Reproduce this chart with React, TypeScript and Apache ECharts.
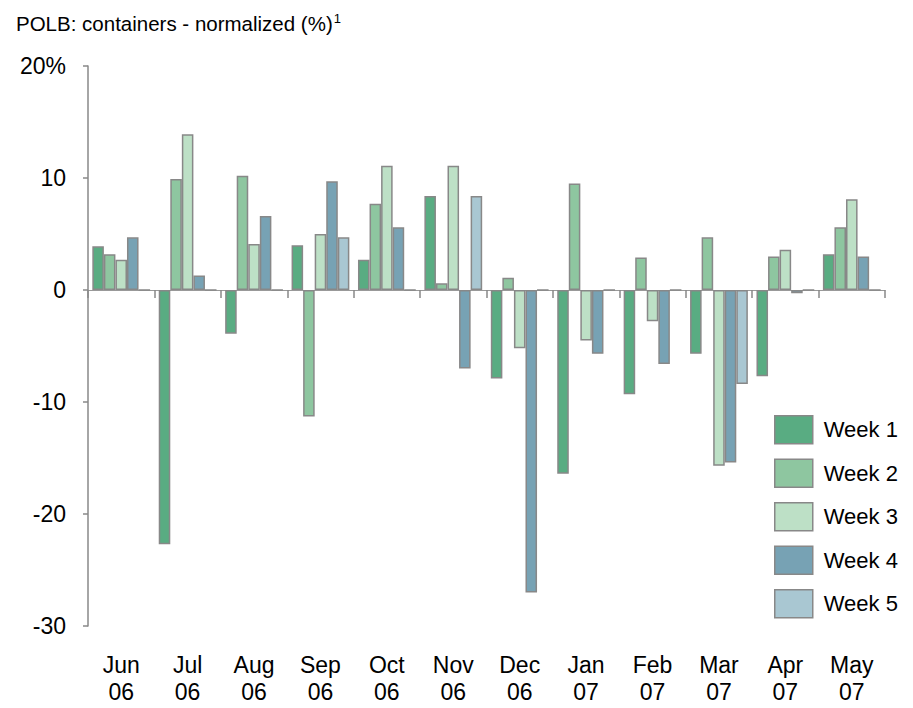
import React, { useEffect, useRef } from "react";
import * as echarts from "echarts";

const months = ["Jun\n06", "Jul\n06", "Aug\n06", "Sep\n06", "Oct\n06", "Nov\n06", "Dec\n06", "Jan\n07", "Feb\n07", "Mar\n07", "Apr\n07", "May\n07"];
const week1 = [3.9, -22.7, -3.9, 4.0, 2.7, 8.4, -7.9, -16.4, -9.3, -5.7, -7.7, 3.2];
const week2 = [3.2, 9.9, 10.2, -11.3, 7.7, 0.6, 1.1, 9.5, 2.9, 4.7, 3.0, 5.6];
const week3 = [2.7, 13.9, 4.1, 5.0, 11.1, 11.1, -5.2, -4.5, -2.8, -15.7, 3.6, 8.1];
const week4 = [4.7, 1.3, 6.6, 9.7, 5.6, -7.0, -27.0, -5.7, -6.6, -15.4, -0.3, 3.0];
const week5 = [0, 0, 0, 4.7, 0, 8.4, 0, 0, 0, -8.4, 0, 0];
const seriesNames = ["Week 1", "Week 2", "Week 3", "Week 4", "Week 5"];
const seriesColors = ["#59ac82", "#8ec6a0", "#bde0c6", "#77a2b4", "#a9c7d2"];
const yTicks = [-30, -20, -10, 0, 10, 20];

export default function App() {
  const ref = useRef<HTMLDivElement>(null);
  useEffect(() => {
    if (!ref.current) return;
    const chart = echarts.init(ref.current, null, { renderer: "svg" });
    const font = "Liberation Sans, Arial, sans-serif";
    const data = [week1, week2, week3, week4, week5];
    chart.setOption({
      animation: false,
      textStyle: { fontFamily: font },
      title: {
        left: 11,
        top: 7,
        padding: 5,
        text: "{a|POLB: containers - normalized (%)}{b|1}",
        textStyle: {
          fontWeight: "normal",
          rich: {
            a: { fontSize: 20.5, color: "#000", fontFamily: font, fontWeight: "normal" },
            b: { fontSize: 13, color: "#000", fontFamily: font, fontWeight: "normal", verticalAlign: "top", padding: [0, 0, 10, 1] },
          },
        },
      },
      legend: {
        orient: "vertical",
        left: 774,
        top: 415,
        padding: 0,
        itemWidth: 38,
        itemHeight: 28,
        itemGap: 14,
        icon: "rect",
        data: seriesNames,
        itemStyle: { borderColor: "#888", borderWidth: 1.5 },
        textStyle: { fontSize: 22, color: "#000", fontFamily: font, padding: [0, 0, 0, 6] },
      },
      grid: { left: 88, right: 28, top: 66, bottom: 82, containLabel: false },
      xAxis: [
        {
          type: "category",
          data: months,
          position: "bottom",
          axisLine: { onZero: true, lineStyle: { color: "#999", width: 1 } },
          axisTick: { show: true, length: 8, lineStyle: { color: "#888", width: 1.5 } },
          axisLabel: { show: false },
        },
        {
          type: "category",
          data: months,
          position: "bottom",
          axisLine: { show: false, onZero: false },
          axisTick: { show: false },
          axisLabel: { show: true, fontSize: 23, color: "#000", lineHeight: 27, margin: 25, fontFamily: font },
        },
      ],
      yAxis: {
        type: "value",
        min: -30,
        max: 20,
        interval: 10,
        axisLine: { show: true, lineStyle: { color: "#888", width: 1.5 } },
        axisTick: { show: true, length: 5, lineStyle: { color: "#888", width: 1.5 } },
        splitLine: { show: false },
        axisLabel: {
          fontSize: 23,
          color: "#000",
          margin: 22,
          fontFamily: font,
          formatter: (v: number) => (v === yTicks[yTicks.length - 1] ? v + "%" : String(v)),
        },
      },
      series: data.map((d, i) => ({
        name: seriesNames[i],
        type: "bar",
        xAxisIndex: 0,
        data: d,
        barGap: "0%",
        barCategoryGap: "13%",
        itemStyle: { color: seriesColors[i], borderColor: "#888", borderWidth: 1.5 },
      })),
    });
    return () => chart.dispose();
  }, []);
  return <div ref={ref} style={{ width: 913, height: 708, position: "absolute", left: 0, top: 0 }} />;
}
